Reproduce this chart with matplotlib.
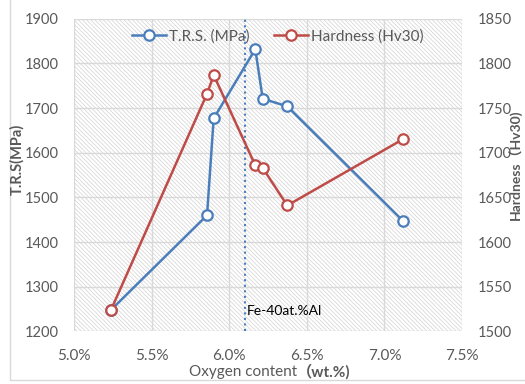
import matplotlib
matplotlib.use("Agg")
import matplotlib.pyplot as plt
from matplotlib.patches import Rectangle
from matplotlib.ticker import FuncFormatter
from matplotlib.offsetbox import TextArea, HPacker, AnnotationBbox

plt.rcParams['font.family'] = ['Lato', 'Noto Sans CJK SC', 'DejaVu Sans']
plt.rcParams['hatch.linewidth'] = 0.5
plt.rcParams['hatch.color'] = '#d2d2d2'

# data
oxygen = [5.238, 5.857, 5.90, 6.168, 6.216, 6.374, 7.118]
trs = [1248, 1460, 1677, 1832, 1721, 1704, 1448]
hardness = [1524, 1766, 1787, 1686, 1683, 1641, 1715]
alloy_x = 6.10
alloy_label = "Fe-40at.%Al"

blue = '#4a7ebb'
red = '#be4b48'
gray = '#595959'

fig = plt.figure(figsize=(5.25, 3.84), dpi=100)
ax = fig.add_axes([0.141, 0.137, 0.739, 0.814])

# light frame around the whole chart
fig.patches.append(Rectangle((10 / 525, 4 / 384), 1.2, 1.2, transform=fig.transFigure,
                             fill=False, edgecolor='#d9d9d9', lw=1))

# hatched plot background
ax.add_patch(Rectangle((0, 0), 1, 1, transform=ax.transAxes, facecolor='white',
                       hatch='\\' * 8, edgecolor='#d2d2d2', lw=0, zorder=0))

ax.set_xlim(5.0, 7.5)
ax.set_ylim(1200, 1900)
ax.set_xticks([5.0, 5.5, 6.0, 6.5, 7.0, 7.5])
ax.set_yticks(range(1200, 1901, 100))
ax.xaxis.set_major_formatter(FuncFormatter(lambda v, p: f"{v:.1f}%"))
ax.grid(True, color='#d9d9d9', lw=1)
ax.set_axisbelow(True)
for s in ax.spines.values():
    s.set_visible(False)
ax.tick_params(length=0, colors=gray, labelsize=10.5, pad=11)
ax.tick_params(axis='x', labelsize=11, pad=13)

ax.axvline(alloy_x, color=blue, ls=':', lw=1.5, zorder=2)
ax.text(alloy_x + 0.01, 1245, alloy_label, fontsize=10, color='black', va='center', ha='left')

l1, = ax.plot(oxygen, trs, color=blue, lw=1.8, marker='o', ms=7.5, mfc='white',
              mec=blue, mew=1.6, label='T.R.S. (MPa)', zorder=3)

ax2 = ax.twinx()
ax2.set_ylim(1500, 1850)
ax2.set_yticks(range(1500, 1851, 50))
for s in ax2.spines.values():
    s.set_visible(False)
ax2.tick_params(length=0, colors=gray, labelsize=10.5, pad=11)
l2, = ax2.plot(oxygen, hardness, color=red, lw=1.8, marker='o', ms=7.5, mfc='white',
               mec=red, mew=1.6, label='Hardness (Hv30)', zorder=3)

# x label: plain text followed by a bold unit
xlab = HPacker(children=[
    TextArea("Oxygen content", textprops=dict(fontsize=11, color=gray)),
    TextArea("（wt.%)", textprops=dict(fontsize=11, color=gray, fontweight='bold')),
], align='baseline', pad=0, sep=0)
ax.add_artist(AnnotationBbox(xlab, (0.505, -0.128), xycoords='axes fraction',
                             frameon=False, box_alignment=(0.5, 0.5)))

# axis titles placed like in the reference
fig.text(17 / 525, 0.585, "T.R.S(MPa)", fontsize=10.5, fontweight='bold', color=gray,
         rotation=90, ha='center', va='center')
fig.text(515.5 / 525, 0.57, "Hardness（Hv30)", fontsize=10, fontweight='bold', color=gray,
         rotation=90, ha='center', va='center')

leg = ax2.legend(handles=[l1, l2], loc='upper center', bbox_to_anchor=(0.525, 1.01), ncol=2,
                 frameon=False, fontsize=11, handlelength=2.2, columnspacing=1.6,
                 handletextpad=0.2)
for t in leg.get_texts():
    t.set_color(gray)

fig.savefig("out.png", dpi=100)
